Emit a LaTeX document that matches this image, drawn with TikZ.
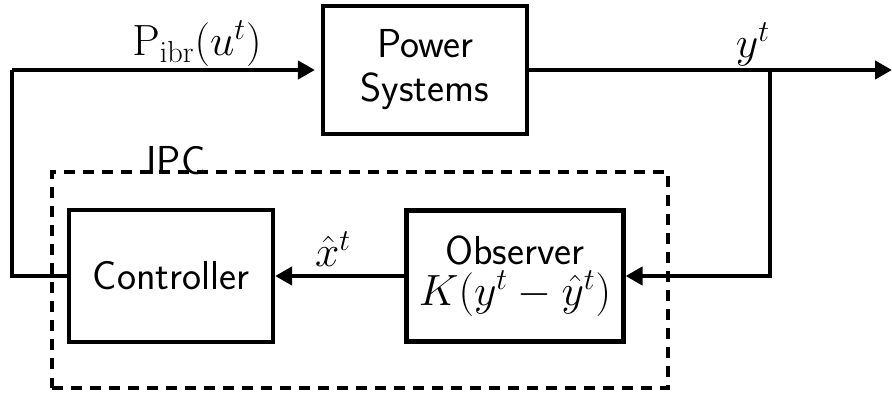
\documentclass[tikz,border=0pt]{standalone}
\usepackage{amsmath,amssymb}
\usepackage{tikz}
\usetikzlibrary{positioning,arrows.meta,calc}
\tikzset{
    blockbox/.style={draw, line width=2.4pt, rectangle, align=center, font=\fontsize{23}{25}\selectfont\sffamily},
    sigline/.style={line width=2.4pt},
    sigarrow/.style={line width=2.4pt, -{Triangle[length=0.34cm,width=0.36cm]}},
    lbl/.style={font=\fontsize{23}{25}\selectfont}
}

\begin{document}
\begin{tikzpicture}
    \useasboundingbox (0,0) rectangle (17.84,7.88);

    % IPC frame
    \draw[line width=2.6pt, dash pattern=on 0.21cm off 0.17cm] (1.04,0.12) rectangle (13.36,4.44);
    \node[lbl, font=\fontsize{23}{25}\selectfont\sffamily] (ipc) at (3.52,4.66) {IPC};

    % Blocks
    \node[blockbox, minimum width=4.08cm, minimum height=2.56cm] (power) at (8.5,6.48) {Power\\Systems};
    \node[blockbox, minimum width=4.08cm, minimum height=2.64cm] (ctrl) at (3.42,2.36) {Controller};
    \node[blockbox, minimum width=4.34cm, minimum height=2.62cm, inner sep=1pt] (obs) at (10.3,2.36) {Observer\\[-2pt]$K(y^t-\hat{y}^t)$};

    % Helper points
    \coordinate (out) at (17.84,6.48);
    \coordinate (tap) at (15.4,6.48);
    \coordinate (fbl) at (0.24,6.48);

    % Output and measurement path
    \draw[sigarrow] (power.east) -- (out);
    \draw[sigarrow] (tap) |- (obs.east);
    \node[lbl] (ylbl) at (15.06,7.0) {$y^t$};

    % Estimate to controller
    \draw[sigarrow] (obs.west) -- (ctrl.east);
    \node[lbl] (xlbl) at (6.66,2.9) {$\hat{x}^t$};

    % Control input back to the plant
    \draw[sigline] (ctrl.west) -| (fbl);
    \draw[sigarrow, shorten >=0.12cm] (fbl) -- (power.west);
    \node[lbl] (plbl) at (3.94,7.0) {$\mathrm{P}_{\mathrm{ibr}}(u^t)$};
\end{tikzpicture}
\end{document}
